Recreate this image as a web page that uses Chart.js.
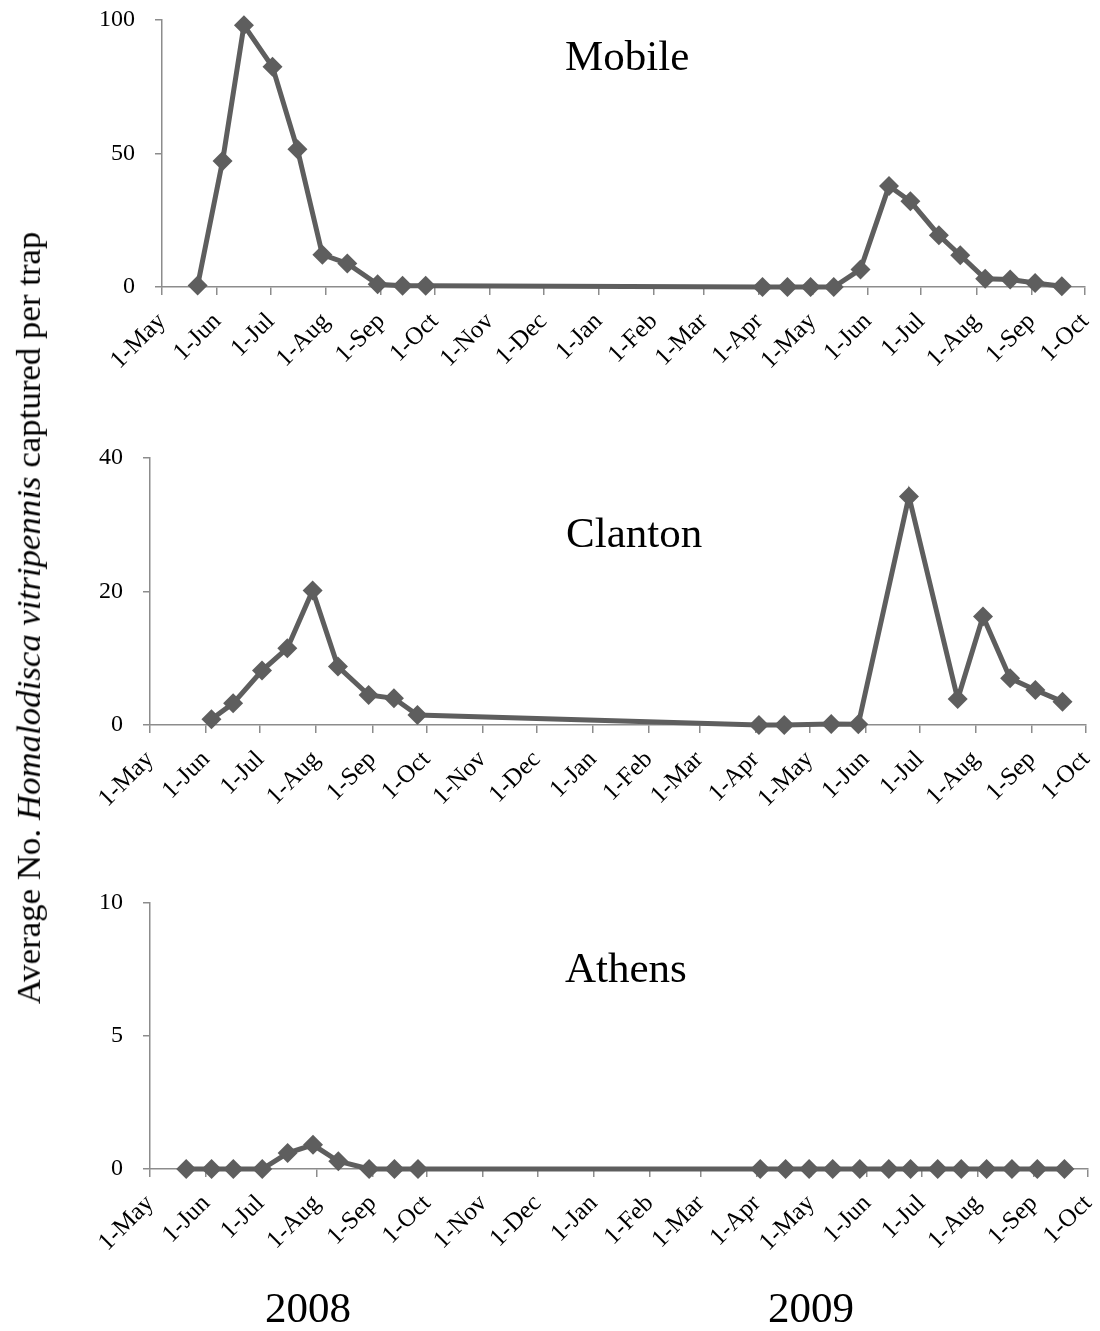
<!DOCTYPE html>
<html>
<head>
<meta charset="utf-8">
<script src="https://cdn.jsdelivr.net/npm/chart.js@4.4.1/dist/chart.umd.min.js"></script>
<style>
  body { margin: 0; background: #fff; }
  #page { position: relative; width: 1100px; height: 1331px; overflow: hidden; }
  canvas { position: absolute; left: 0; }
  #ytitle { position: absolute; white-space: nowrap; font: 34px "Liberation Serif", serif; color: #000; line-height: 1; }
</style>
</head>
<body>
<div id="page">
  <canvas id="mobile" width="1100" height="440" style="top:0px"></canvas>
  <canvas id="clanton" width="1100" height="445" style="top:440px"></canvas>
  <canvas id="athens" width="1100" height="446" style="top:885px"></canvas>
  <div id="ytitle">Average No. <i>Homalodisca vitripennis</i> captured per trap</div>
</div>
<script>
// month ticks on the x axis
var tickDates = ['2008-05-01','2008-06-01','2008-07-01','2008-08-01','2008-09-01','2008-10-01',
  '2008-11-01','2008-12-01','2009-01-01','2009-02-01','2009-03-01','2009-04-01','2009-05-01',
  '2009-06-01','2009-07-01','2009-08-01','2009-09-01','2009-10-01'];
var tickLabels = ['1-May','1-Jun','1-Jul','1-Aug','1-Sep','1-Oct','1-Nov','1-Dec','1-Jan',
  '1-Feb','1-Mar','1-Apr','1-May','1-Jun','1-Jul','1-Aug','1-Sep','1-Oct'];

var mobileDates = ['2008-05-21','2008-06-04','2008-06-16','2008-07-02','2008-07-16','2008-07-30',
  '2008-08-13','2008-08-30','2008-09-13','2008-09-26','2009-04-03','2009-04-17','2009-04-30',
  '2009-05-13','2009-05-28','2009-06-13','2009-06-25','2009-07-11','2009-07-23','2009-08-06',
  '2009-08-20','2009-09-03','2009-09-18'];
var mobileValues = [0.6, 47.2, 98, 82.5, 51.6, 12.1, 8.8, 1.0, 0.5, 0.5, 0, 0, 0,
  0, 6.6, 37.8, 32.1, 19.4, 11.9, 3.1, 2.8, 1.5, 0.3];

var clantonDates = ['2008-06-04','2008-06-16','2008-07-02','2008-07-16','2008-07-30','2008-08-13',
  '2008-08-30','2008-09-13','2008-09-26','2009-04-03','2009-04-17','2009-05-13','2009-05-28',
  '2009-06-25','2009-07-22','2009-08-05','2009-08-20','2009-09-03','2009-09-18'];
var clantonValues = [0.85, 3.25, 8.15, 11.5, 20.15, 8.75, 4.5, 4.0, 1.5, 0, 0, 0.15, 0.1,
  34.25, 3.9, 16.25, 7.0, 5.25, 3.5];

var athensDates = ['2008-05-21','2008-06-04','2008-06-16','2008-07-02','2008-07-16','2008-07-30',
  '2008-08-13','2008-08-30','2008-09-13','2008-09-26','2009-04-03','2009-04-17','2009-04-30',
  '2009-05-13','2009-05-28','2009-06-13','2009-06-25','2009-07-10','2009-07-23','2009-08-06',
  '2009-08-20','2009-09-03','2009-09-18'];
var athensValues = [0, 0, 0, 0, 0.6, 0.91, 0.29, 0, 0, 0, 0, 0, 0,
  0, 0, 0, 0, 0, 0, 0, 0, 0, 0];

var yearLabels = ['2008', '2009'];

var start = Date.UTC(2008, 4, 1);
function dayOf(s) {
  var p = s.split('-');
  return (Date.UTC(+p[0], +p[1] - 1, +p[2]) - start) / 86400000;
}
var tickDays = tickDates.map(dayOf);

var lineColor = '#5e5e5e';
var axisColor = '#8c8c8c';
var serif = 'Liberation Serif';

// draws free text (panel names, years) on the canvas
var textPlugin = {
  id: 'panelText',
  afterDraw: function(chart, args, opts) {
    var ctx = chart.ctx;
    ctx.save();
    ctx.fillStyle = '#000';
    ctx.textBaseline = 'alphabetic';
    opts.items.forEach(function(t) {
      ctx.font = t.size + 'px "' + serif + '"';
      ctx.fillText(t.text, t.x, t.y);
    });
    ctx.restore();
  }
};

function makePanel(id, dates, values, yMax, yStep, layout, texts) {
  var ctx = document.getElementById(id);
  var points = dates.map(function(d, i) { return { x: dayOf(d), y: values[i] }; });
  var config = {
    type: 'line',
    data: {
      datasets: [{
        data: points,
        borderColor: lineColor,
        borderWidth: 5,
        backgroundColor: lineColor,
        pointStyle: 'rectRot',
        pointRadius: 10,
        pointBorderWidth: 0,
        pointBackgroundColor: lineColor,
        tension: 0,
        clip: false
      }]
    },
    options: {
      responsive: false,
      animation: false,
      devicePixelRatio: 1,
      layout: { padding: { top: layout.top, right: layout.right, left: 0, bottom: 0 } },
      scales: {
        x: {
          type: 'linear',
          min: 0,
          max: tickDays[tickDays.length - 1],
          afterBuildTicks: function(s) {
            s.ticks = tickDays.map(function(v) { return { value: v }; });
          },
          afterFit: function(s) {
            s.height = layout.xHeight;
            s.paddingLeft = 0;
            s.paddingRight = 0;
          },
          ticks: {
            autoSkip: false,
            maxRotation: 45,
            minRotation: 45,
            padding: 12,
            color: '#000',
            font: { family: serif, size: 25 },
            callback: function(v, i) { return tickLabels[i]; }
          },
          grid: { drawOnChartArea: false, tickLength: 8, color: axisColor, lineWidth: 1.5 },
          border: { color: axisColor, width: 1.5 }
        },
        y: {
          min: 0,
          max: yMax,
          afterFit: function(s) {
            s.width = layout.left;
            s.paddingTop = 0;
            s.paddingBottom = 0;
          },
          ticks: {
            stepSize: yStep,
            padding: 20,
            color: '#000',
            font: { family: serif, size: 24 }
          },
          grid: { drawOnChartArea: false, tickLength: 7, color: axisColor, lineWidth: 1.5 },
          border: { color: axisColor, width: 1.5 }
        }
      },
      plugins: {
        legend: { display: false },
        tooltip: { enabled: false },
        panelText: { items: texts }
      }
    },
    plugins: [textPlugin]
  };
  return new Chart(ctx, config);
}

makePanel('mobile', mobileDates, mobileValues, 100, 50,
  { top: 20, right: 15, left: 162, xHeight: 153 },
  [{ text: 'Mobile', x: 565, y: 70, size: 43 }]);

makePanel('clanton', clantonDates, clantonValues, 40, 20,
  { top: 18, right: 14, left: 150, xHeight: 160 },
  [{ text: 'Clanton', x: 566, y: 107, size: 43 }]);

makePanel('athens', athensDates, athensValues, 10, 5,
  { top: 18, right: 12, left: 150, xHeight: 162 },
  [{ text: 'Athens', x: 565, y: 97, size: 43 },
   { text: yearLabels[0], x: 265, y: 437, size: 43 },
   { text: yearLabels[1], x: 768, y: 437, size: 43 }]);

// rotated axis title spanning the three panels
var yt = document.getElementById('ytitle');
var w = yt.offsetWidth, h = yt.offsetHeight;
yt.style.left = (29 - w / 2) + 'px';
yt.style.top = (618 - h / 2) + 'px';
yt.style.transform = 'rotate(-90deg) scaleX(' + (773 / w) + ')';
</script>
</body>
</html>
